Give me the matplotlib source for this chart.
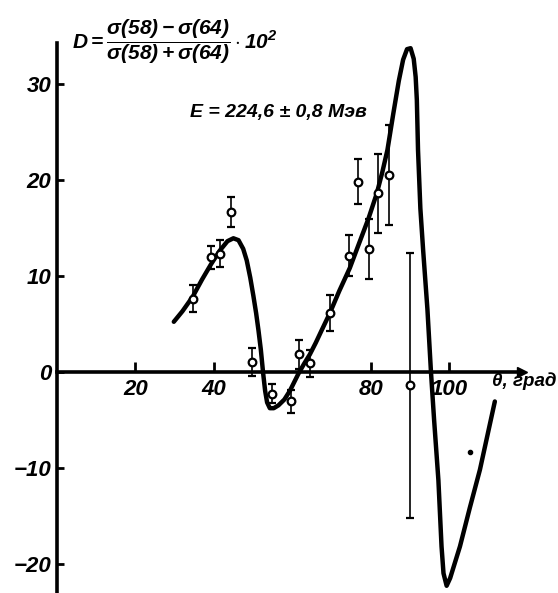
import matplotlib
matplotlib.use('Agg')
import matplotlib.pyplot as plt

plt.rcParams['font.family'] = ['Liberation Sans', 'DejaVu Sans']
plt.rcParams['font.style'] = 'italic'
plt.rcParams['font.weight'] = 'bold'
plt.rcParams['mathtext.fontset'] = 'custom'
plt.rcParams['mathtext.rm'] = 'Liberation Sans:italic:bold'
plt.rcParams['mathtext.it'] = 'Liberation Sans:italic:bold'
plt.rcParams['mathtext.bf'] = 'Liberation Sans:italic:bold'

# measured asymmetry points (theta in degrees, D in %)
theta_pts = [34.6, 39.3, 41.6, 44.4, 49.7, 54.8, 59.6, 61.7, 64.5, 69.6,
             74.5, 76.9, 79.6, 81.8, 84.8, 90.0]
d_pts = [7.6, 11.9, 12.3, 16.6, 1.0, -2.3, -3.1, 1.8, 0.9, 6.1,
         12.1, 19.8, 12.8, 18.6, 20.5, -1.4]
d_err = [1.4, 1.2, 1.4, 1.55, 1.45, 1.0, 1.2, 1.5, 1.4, 1.85,
         2.1, 2.35, 3.1, 4.1, 5.2, 13.8]

# theoretical curve
theta_curve = [29.8, 32.0, 34.6, 37.0, 39.3, 41.5, 43.5, 45.0, 46.3, 47.5,
               48.4, 49.3, 50.1, 50.8, 51.4, 52.0, 52.6, 53.1, 53.6, 54.3,
               55.3, 56.5, 58.0, 59.4, 60.5, 61.6, 63.0, 64.5, 66.0, 67.5,
               69.6, 72.0, 74.7, 77.0, 79.5, 81.6, 83.0, 84.3, 85.8, 87.2,
               88.3, 89.3, 90.2, 91.0, 91.5, 91.8, 92.1, 92.7, 93.4, 94.5,
               95.4, 96.2, 97.3, 98.1, 98.6, 99.4, 100.3, 102.8, 105.3, 107.9,
               111.7]
d_curve = [5.2, 6.3, 7.8, 9.6, 11.2, 12.6, 13.6, 13.9, 13.7, 12.8,
           11.6, 9.8, 7.9, 6.1, 4.3, 2.3, -0.2, -2.0, -3.2, -3.8,
           -3.8, -3.5, -2.9, -2.0, -1.1, -0.2, 0.8, 1.8, 3.0, 4.3,
           6.1, 8.4, 10.8, 13.3, 16.0, 18.6, 20.8, 23.1, 26.9, 30.3,
           32.5, 33.6, 33.7, 32.6, 30.7, 28.3, 23.1, 17.0, 12.7, 6.5,
           0.0, -5.0, -11.3, -18.2, -21.0, -22.3, -21.5, -18.2, -14.2, -10.2,
           -3.1]

stray_dot = (105.4, -8.4)

xticks = [20, 40, 80, 100]
yticks = [-20, -10, 0, 10, 20, 30]

fig = plt.figure(figsize=(5.58, 5.93), dpi=100)
ax = fig.add_axes([57 / 558, 0.5 / 593, 464.5 / 558, 549.1 / 593])
ax.set_xlim(0, 118.5)
ax.set_ylim(-23.0, 34.2)

for side in ['top', 'right']:
    ax.spines[side].set_visible(False)
ax.spines['left'].set_position(('data', 0))
ax.spines['bottom'].set_position(('data', 0))
ax.spines['left'].set_linewidth(2.6)
ax.spines['bottom'].set_linewidth(2.6)
ax.plot(1, 0, '>k', markersize=7, transform=ax.get_yaxis_transform(), clip_on=False)

ax.set_xticks(xticks)
ax.set_xticklabels([str(t) for t in xticks])
ax.set_yticks(yticks)
ax.tick_params(axis='x', direction='in', length=7, width=2, pad=5, labelsize=16)
ax.tick_params(axis='y', direction='in', length=5, width=2, pad=4, labelsize=16)

ax.plot(theta_curve, d_curve, color='black', linewidth=3.2,
        solid_capstyle='round', solid_joinstyle='round')
ax.errorbar(theta_pts, d_pts, yerr=d_err, fmt='o', color='black',
            markerfacecolor='white', markeredgewidth=1.6, markersize=5.5,
            elinewidth=1.2, capsize=3, capthick=1.6, zorder=3)
ax.plot(*stray_dot, 'o', color='black', markersize=3)

ax.text(111, -0.1, 'θ, град', fontsize=13.5, ha='left', va='top')
ax.text(34.0, 27.0, 'E = 224,6 ± 0,8 Мэв', fontsize=14, ha='left', va='center')
fig.text(72 / 558, 1 - 42 / 593,
         r'$D=\dfrac{\sigma(58)-\sigma(64)}{\sigma(58)+\sigma(64)}\cdot10^2$',
         fontsize=15, ha='left', va='center')

fig.savefig('out.png', dpi=100)
